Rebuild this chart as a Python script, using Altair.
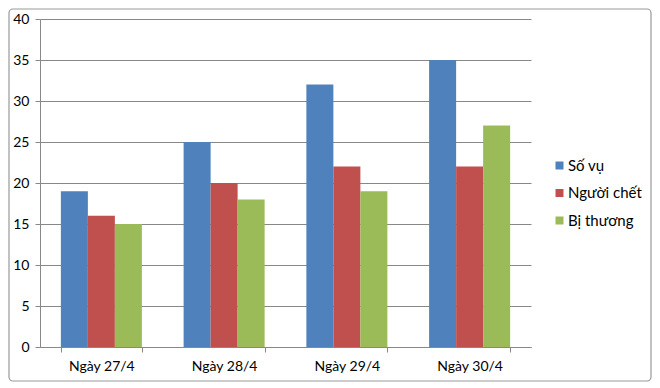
import altair as alt
import pandas as pd

categories = ["Ngày 27/4", "Ngày 28/4", "Ngày 29/4", "Ngày 30/4"]
series = ["Số vụ", "Người chết", "Bị thương"]
so_vu = [19, 25, 32, 35]
nguoi_chet = [16, 20, 22, 22]
bi_thuong = [15, 18, 19, 27]
colors = ["#4F81BD", "#C0504D", "#9BBB59"]
y_ticks = [0, 5, 10, 15, 20, 25, 30, 35, 40]

rows = []
for i, c in enumerate(categories):
    for s, vals in zip(series, [so_vu, nguoi_chet, bi_thuong]):
        rows.append({"cat": c, "series": s, "value": vals[i]})
df = pd.DataFrame(rows)

FONT = "Lato"
GRAY = "#888888"

bars = alt.Chart(df).mark_bar().encode(
    x=alt.X(
        "cat:N", sort=categories, title=None,
        scale=alt.Scale(paddingInner=0.34, paddingOuter=0.17),
        axis=alt.Axis(labelAngle=0, tickBand="extent", tickSize=5, labelPadding=7,
                      labelFontSize=14, labelFont=FONT, labelColor="#000000",
                      domainColor=GRAY, tickColor=GRAY, grid=False),
    ),
    xOffset=alt.XOffset("series:N", sort=series,
                        scale=alt.Scale(paddingInner=0, paddingOuter=0)),
    y=alt.Y(
        "value:Q", title=None,
        scale=alt.Scale(domain=[0, 40], nice=False),
        axis=alt.Axis(values=y_ticks, tickSize=5, labelPadding=6,
                      labelFontSize=14, labelFont=FONT, labelColor="#000000",
                      domainColor=GRAY, tickColor=GRAY, gridColor=GRAY,
                      grid=True),
    ),
    color=alt.Color(
        "series:N", sort=series,
        scale=alt.Scale(domain=series, range=colors),
        legend=alt.Legend(title=None, orient="none", legendX=512, legendY=139,
                          symbolType="square", symbolSize=64, symbolStrokeWidth=0,
                          labelFontSize=15, labelFont=FONT, labelColor="#000000",
                          labelOffset=1, rowPadding=11.5),
    ),
)

frame = alt.Chart(alt.Data(values=[{}])).mark_rect(
    fill=None, stroke="#999999", strokeWidth=1.2, cornerRadius=4
).encode(
    x=alt.value(-31), x2=alt.value(611),
    y=alt.value(-10), y2=alt.value(362),
)

chart = alt.layer(bars, frame).properties(
    width=491, height=328,
    autosize="none",
    padding={"left": 32, "top": 11, "right": 121, "bottom": 37},
).configure_view(stroke=None)

chart.save("out.html", embed_options={"renderer": "svg", "actions": False})
